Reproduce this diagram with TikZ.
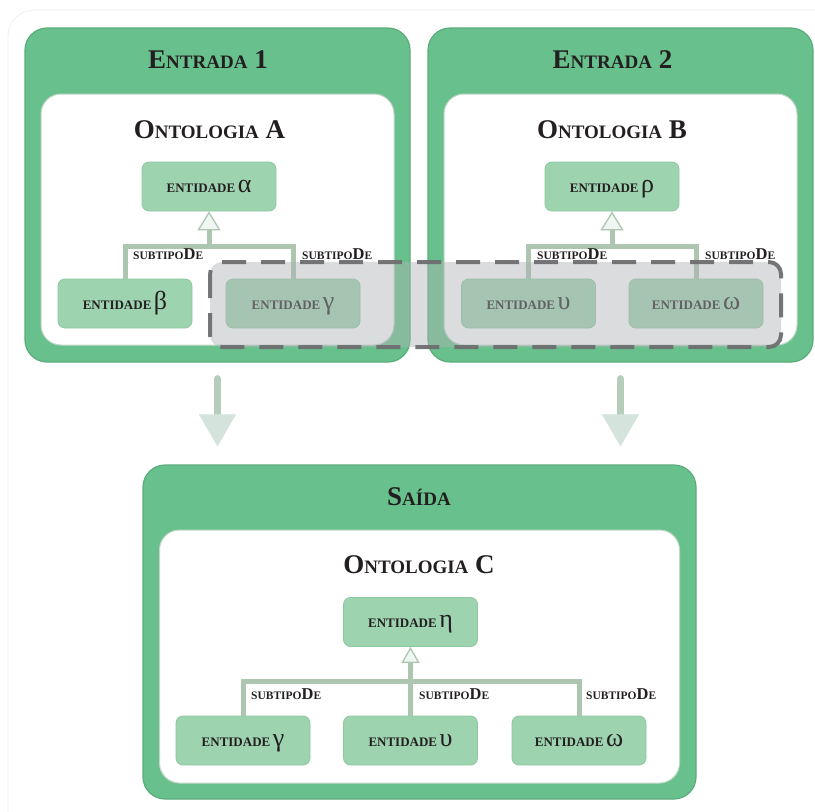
\documentclass[tikz,border=0pt]{standalone}
\usepackage{fontspec}
\setmainfont{Liberation Serif}
\usetikzlibrary{arrows.meta}

\definecolor{stagegreen}{RGB}{104,193,140}
\definecolor{stageedge}{RGB}{90,172,123}
\definecolor{paneledge}{RGB}{196,214,200}
\definecolor{entfill}{RGB}{157,211,175}
\definecolor{entedge}{RGB}{140,200,160}
\definecolor{ink}{RGB}{35,31,32}
\definecolor{linkcol}{RGB}{172,198,176}
\definecolor{tipfill}{RGB}{240,247,242}
\definecolor{shaftcol}{RGB}{182,205,187}
\definecolor{headcol}{RGB}{212,228,221}
\definecolor{hilitefill}{RGB}{176,178,181}
\definecolor{hiliteedge}{RGB}{110,110,112}
\definecolor{framecol}{RGB}{238,238,238}

% fake small caps: large initial + reduced capitals
\newcommand\tlg{\fontsize{27}{30}\selectfont}
\newcommand\tsm{\fontsize{19}{22}\selectfont}
\newcommand\esm{\fontsize{13}{15}\selectfont}
\newcommand\gk{\fontsize{26}{28}\selectfont\mdseries}
\newcommand\rsm{\fontsize{11.5}{13}\selectfont}
\newcommand\rlg{\fontsize{16.5}{18}\selectfont}
\newcommand\ent[1]{{\esm ENTIDADE}\ {\gk #1}}
\newcommand\subrel{{\rsm SUBTIPO}{\rlg D}{\rsm E}}

\tikzset{
  stage/.style={rectangle, rounded corners=22pt, fill=stagegreen, draw=stageedge,
    line width=1.2pt, inner sep=0},
  panel/.style={rectangle, rounded corners=20pt, fill=white, draw=paneledge,
    line width=1pt, inner sep=0},
  entity/.style={rectangle, rounded corners=7pt, fill=entfill, draw=entedge,
    line width=0.8pt, minimum width=134pt, minimum height=49pt, inner sep=0,
    text height=11pt, text depth=0pt, text=ink, font=\bfseries},
  heading/.style={inner sep=0, text=ink, font=\bfseries},
  rellabel/.style={anchor=base west, inner sep=0, text=ink, font=\bfseries},
  rel/.style={line width=5pt, draw=linkcol},
  relarrow/.style={rel, -{Triangle[length=19pt,width=23pt,fill=tipfill,line width=1.3pt]}},
  relarrowsmall/.style={rel, -{Triangle[length=16pt,width=18pt,fill=tipfill,line width=1.3pt]}},
  flow/.style={line width=7pt, draw=shaftcol, line cap=round,
    -{Triangle[length=32pt,width=37pt,color=headcol,line width=0.4pt]}},
  hilite/.style={rounded corners=12pt, fill=hilitefill, fill opacity=0.45,
    draw=hiliteedge, draw opacity=0.95, line width=4pt, dash pattern=on 24pt off 15pt}
}

\begin{document}
\begin{tikzpicture}[x=1pt,y=-1pt]
\useasboundingbox (0,0) rectangle (815,812);
\draw[framecol, line width=0.8pt, rounded corners=26pt] (8,10) rectangle (860,860);

% ---- Entrada 1 ----
\node[stage, minimum width=385pt, minimum height=334pt] (e1) at (217.5,195) {};
\node[panel, minimum width=353pt, minimum height=251pt] (pa) at (217.5,219.5) {};
\node[heading] (e1t) at (208,60) {{\tlg E}{\tsm NTRADA}{\tlg\ 1}};
\node[heading] (pat) at (209.5,130) {{\tlg O}{\tsm NTOLOGIA}{\tlg\ A}};
\node[entity] (a0) at (209,186.5) {\ent{α}};
\node[entity] (a1) at (125,303.5) {\ent{β}};
\node[entity] (a2) at (293,303.5) {\ent{γ}};
\coordinate (jA) at (209,246);
\draw[rel] (a1.north) |- (jA) -| (a2.north);
\draw[relarrow] (jA) -- (a0.south);
\node[rellabel] (la1) at (133,259) {\subrel};
\node[rellabel] (la2) at (302,259) {\subrel};

% ---- Entrada 2 ----
\node[stage, minimum width=385pt, minimum height=334pt] (e2) at (620.5,195) {};
\node[panel, minimum width=353pt, minimum height=251pt] (pb) at (620.5,219.5) {};
\node[heading] (e2t) at (612.5,60) {{\tlg E}{\tsm NTRADA}{\tlg\ 2}};
\node[heading] (pbt) at (612,130) {{\tlg O}{\tsm NTOLOGIA}{\tlg\ B}};
\node[entity] (b0) at (612,186.5) {\ent{ρ}};
\node[entity] (b1) at (528.5,303.5) {\ent{υ}};
\node[entity] (b2) at (696,303.5) {\ent{ω}};
\coordinate (jB) at (612,246);
\draw[rel] (b1.north) |- (jB) -| (b2.north);
\draw[relarrow] (jB) -- (b0.south);
\node[rellabel] (lb1) at (537,259) {\subrel};
\node[rellabel] (lb2) at (705,259) {\subrel};

% ---- shared entities ----
\draw[hilite] (210,262) rectangle (781,347);

% ---- Saida ----
\node[stage, minimum width=553pt, minimum height=334pt] (out) at (419.5,632) {};
\node[panel, minimum width=520pt, minimum height=253pt] (pc) at (419.5,656.5) {};
\node[heading] (outt) at (419,497) {{\tlg S}{\tsm AÍDA}};
\node[heading] (pct) at (419,565) {{\tlg O}{\tsm NTOLOGIA}{\tlg\ C}};
\node[entity] (c0) at (410.5,622) {\ent{η}};
\node[entity] (c1) at (243,740.5) {\ent{γ}};
\node[entity] (c2) at (410.5,740.5) {\ent{υ}};
\node[entity] (c3) at (579,740.5) {\ent{ω}};
\coordinate (jC) at (410.5,681.5);
\draw[rel] (c1.north) |- (jC) -| (c3.north);
\draw[relarrowsmall] (c2.north) -- (c0.south);
\node[rellabel] (lc1) at (251,699) {\subrel};
\node[rellabel] (lc2) at (419,699) {\subrel};
\node[rellabel] (lc3) at (586,699) {\subrel};

% ---- flow from inputs to output ----
\draw[flow, shorten <=16pt, shorten >=18pt] (e1.south) -- (e1.south |- out.north);
\draw[flow, shorten <=16pt, shorten >=18pt] (e2.south) -- (e2.south |- out.north);
\end{tikzpicture}
\end{document}
